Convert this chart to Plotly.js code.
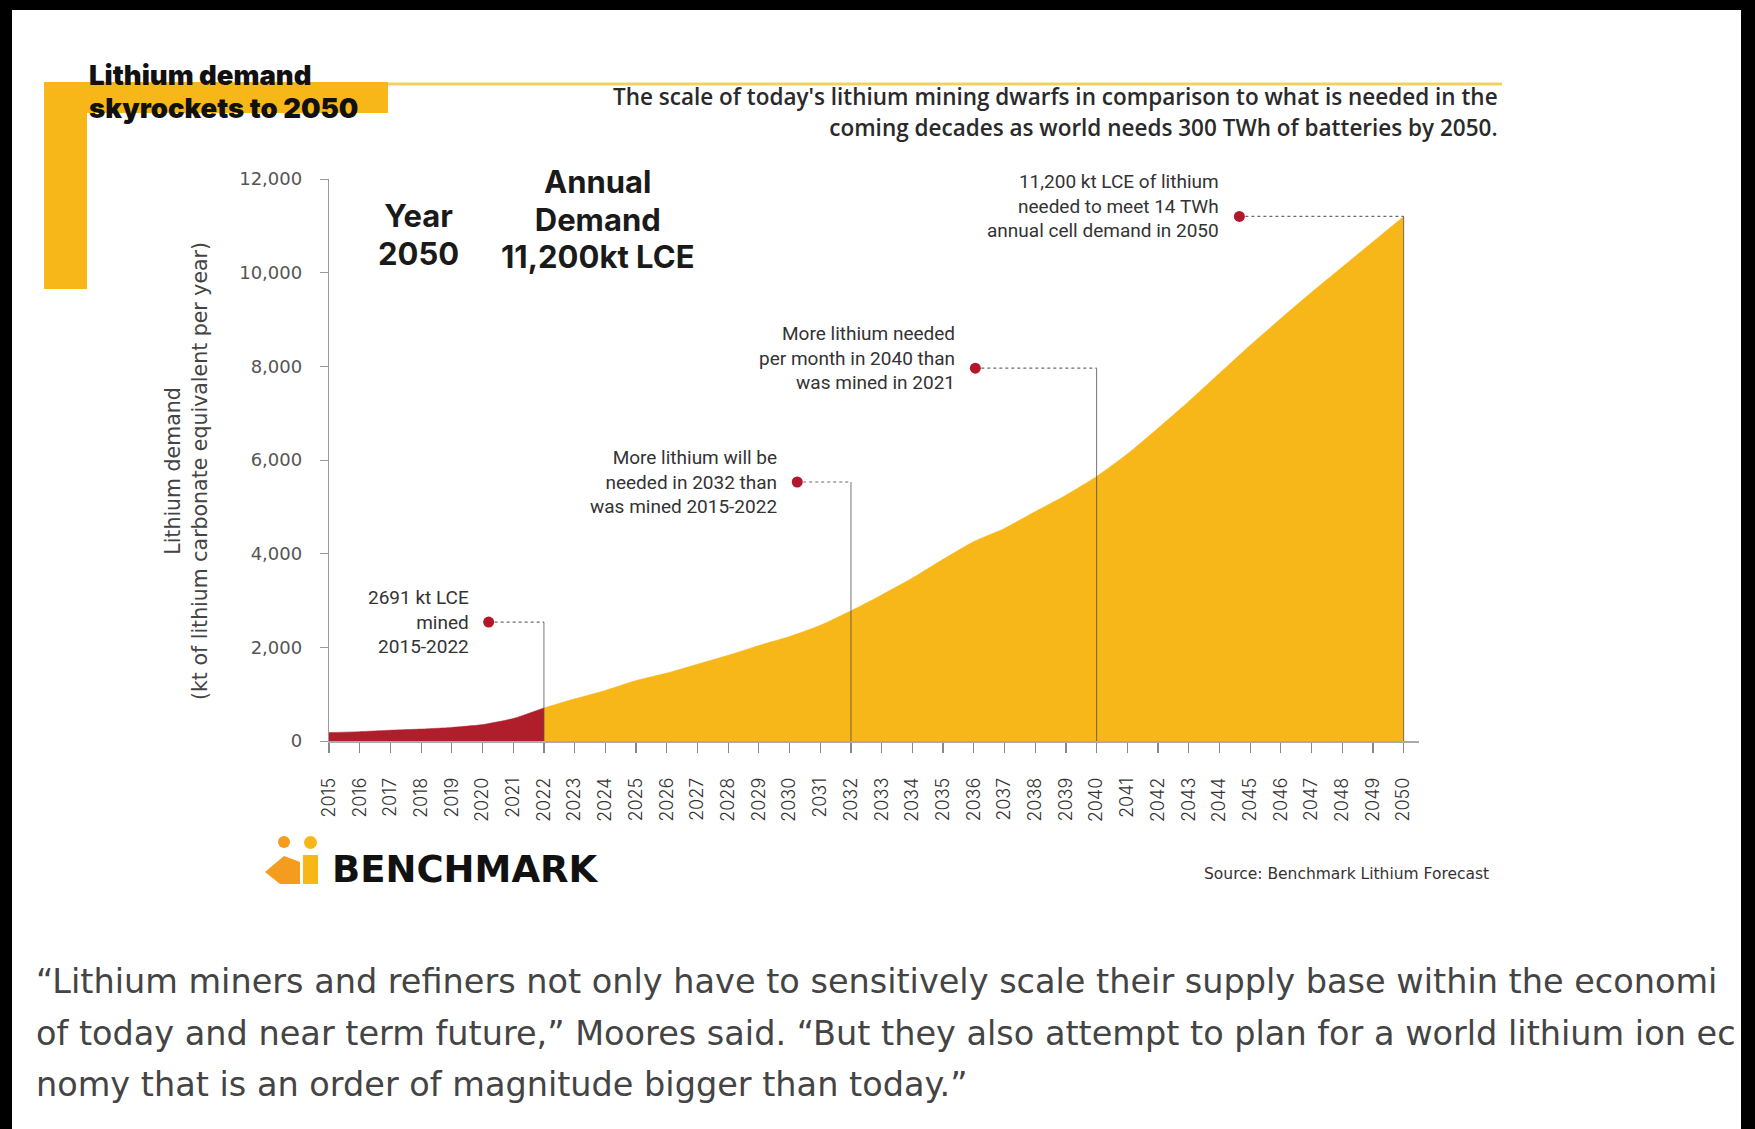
<!DOCTYPE html>
<html><head><meta charset="utf-8">
<script src="https://cdn.plot.ly/plotly-3.0.1.min.js"></script>
<style>
html,body{margin:0;padding:0;background:#fff;}
#wrap{position:relative;width:1755px;height:1129px;overflow:hidden;background:#fff;}
#chart{position:absolute;left:0;top:0;width:1755px;height:1129px;}
.bk{position:absolute;background:#000;z-index:10;pointer-events:none;}
</style></head><body>
<div id="wrap"><div id="chart"></div>
<div class="bk" style="left:0;top:0;width:1755px;height:10px"></div>
<div class="bk" style="left:0;top:0;width:12px;height:1129px"></div>
<div class="bk" style="left:1741px;top:0;width:14px;height:1129px"></div>
</div>
<script>
// ---------------- data ----------------
const years = [2015,2016,2017,2018,2019,2020,2021,2022,2023,2024,2025,2026,2027,2028,2029,2030,2031,2032,2033,2034,2035,2036,2037,2038,2039,2040,2041,2042,2043,2044,2045,2046,2047,2048,2049,2050];
const demand = [180,200,230,255,290,350,480,706,900,1080,1290,1450,1640,1830,2040,2230,2470,2780,3120,3480,3880,4260,4540,4900,5250,5650,6130,6680,7250,7850,8450,9020,9580,10120,10660,11200];
const minedLastYear = 2022;
const yTickValues = [0,2000,4000,6000,8000,10000,12000];
const yTickLabels = ['0','2,000','4,000','6,000','8,000','10,000','12,000'];
const calloutYears = [2020.2, 2030.25, 2036.05, 2044.65];
const calloutValues = [2540, 5530, 7960, 11200];
const calloutTargets = [2022, 2032, 2040, 2050];
const calloutTexts = [
  '2691 kt LCE<br>mined<br>2015-2022',
  'More lithium will be<br>needed in 2032 than<br>was mined 2015-2022',
  'More lithium needed<br>per month in 2040 than<br>was mined in 2021',
  '11,200 kt LCE of lithium<br>needed to meet 14 TWh<br>annual cell demand in 2050'
];
const calloutYShift = [0, 0, 10, 10];

// ---------------- geometry helpers (page pixels -> paper) ----------------
const L = 329, T = 179, W = 1090, H = 562, B = T + H;
const px = X => (X - L) / W;
const py = Y => (B - Y) / H;

const YELLOW = '#F8B718', RED = '#B11E2B', DOT = '#B3172C';
const SANS = 'Inter, Lato, "Open Sans", sans-serif';
const WIDE = '"DejaVu Sans", Verdana, sans-serif';
const NARROW = '"Liberation Sans Narrow", "Roboto", sans-serif';

const minedX = [], minedY = [], fcX = [], fcY = [];
years.forEach((yr, i) => {
  if (yr <= minedLastYear) { minedX.push(yr); minedY.push(demand[i]); }
  if (yr >= minedLastYear) { fcX.push(yr); fcY.push(demand[i]); }
});

const traces = [
  {x: fcX, y: fcY, type: 'scatter', mode: 'lines', fill: 'tozeroy', fillcolor: YELLOW,
   line: {color: YELLOW, width: 0.5, shape: 'spline', smoothing: 0.5}, hoverinfo: 'skip'},
  {x: minedX, y: minedY, type: 'scatter', mode: 'lines', fill: 'tozeroy', fillcolor: RED,
   line: {color: RED, width: 0.5, shape: 'spline', smoothing: 0.5}, hoverinfo: 'skip'}
];
calloutYears.forEach((cx, i) => {
  traces.push({x: [cx, calloutTargets[i]], y: [calloutValues[i], calloutValues[i]], type: 'scatter', mode: 'lines',
    line: {color: '#6d6d6d', width: 1.2, dash: 'dot'}, hoverinfo: 'skip'});
  traces.push({x: [calloutTargets[i], calloutTargets[i]], y: [calloutValues[i], 0], type: 'scatter', mode: 'lines',
    line: {color: 'rgba(70,70,70,0.75)', width: 1}, hoverinfo: 'skip'});
});
traces.push({x: calloutYears, y: calloutValues, type: 'scatter', mode: 'markers',
  marker: {color: DOT, size: 11}, hoverinfo: 'skip'});

const ann = [];
calloutYears.forEach((cx, i) => {
  ann.push({x: cx, y: calloutValues[i], xref: 'x', yref: 'y', text: calloutTexts[i], showarrow: false,
    xanchor: 'right', yanchor: 'middle', align: 'right', xshift: -18, yshift: calloutYShift[i],
    font: {family: NARROW, size: 19, color: '#333'}});
});
function txt(text, X, Y, opts) {
  return Object.assign({text: text, x: px(X), y: py(Y), xref: 'paper', yref: 'paper', showarrow: false,
    xanchor: 'left', yanchor: 'middle'}, opts);
}
// multi-line text with a chosen line pitch: base size sets the pitch, spans set the glyph size
function lines(arr, glyphPx) {
  return arr.map(s => `<span style="font-size:${glyphPx}px">${s}</span>`).join('<br>');
}
ann.push(txt(lines(['Lithium demand', 'skyrockets to 2050'], 27.5), 87, 92,
  {align: 'left', font: {family: SANS, size: 33.5 / 1.3, weight: 900, color: '#111'}}));
ann.push(txt(lines(["The scale of today's lithium mining dwarfs in comparison to what is needed in the",
  'coming decades as world needs 300 TWh of batteries by 2050.'], 22.5), 1500, 112,
  {xanchor: 'right', align: 'right', font: {family: '"Open Sans", sans-serif', size: 31 / 1.3, weight: 600, color: '#2a2a2a'}}));
ann.push(txt(lines(['Year', '2050'], 31), 418, 234.5,
  {xanchor: 'center', align: 'center', font: {family: SANS, size: 37.5 / 1.3, weight: 700, color: '#1a1a1a'}}));
ann.push(txt(lines(['Annual', 'Demand', '11,200kt LCE'], 31), 598, 219,
  {xanchor: 'center', align: 'center', font: {family: SANS, size: 37.5 / 1.3, weight: 700, color: '#1a1a1a'}}));
ann.push(txt('Lithium demand<br>(kt of lithium carbonate equivalent per year)', 186, 471,
  {xanchor: 'center', textangle: -90, font: {family: WIDE, size: 20.5, color: '#444'}}));
ann.push(txt('BENCHMARK', 330, 869, {font: {family: WIDE, size: 37, weight: 700, color: '#111'}}));
ann.push(txt('Source: Benchmark Lithium Forecast', 1491, 874, {xanchor: 'right', font: {family: WIDE, size: 15.5, color: '#333'}}));
const quoteFont = {family: WIDE, size: 33.5, weight: 400, color: '#444'};
// the reference photo crops the first two lines at its right border
ann.push(txt('\u201CLithium miners and refiners not only have to sensitively scale their supply base within the economi', 34, 981, {font: quoteFont}));
ann.push(txt('of today and near term future,\u201D Moores said. \u201CBut they also attempt to plan for a world lithium ion ec', 34, 1033, {font: quoteFont}));
ann.push(txt('nomy that is an order of magnitude bigger than today.\u201D', 34, 1084, {font: quoteFont}));

const shapes = [
  // yellow L frame + thin line
  {type: 'rect', xref: 'paper', yref: 'paper', x0: px(44), x1: px(87), y0: py(82), y1: py(289), fillcolor: YELLOW, line: {width: 0}, layer: 'below'},
  {type: 'rect', xref: 'paper', yref: 'paper', x0: px(44), x1: px(388), y0: py(82), y1: py(113), fillcolor: YELLOW, line: {width: 0}, layer: 'below'},
  {type: 'line', xref: 'paper', yref: 'paper', x0: px(388), x1: px(1502), y0: py(84), y1: py(84), line: {color: '#EFD362', width: 3}, layer: 'below'},
  // logo icon
  {type: 'path', xref: 'paper', yref: 'paper', path: `M ${px(265)} ${py(872)} L ${px(284)} ${py(856)} L ${px(300)} ${py(862)} L ${px(300)} ${py(884)} L ${px(280)} ${py(884)} Z`, fillcolor: '#F39C1E', line: {width: 0}},
  {type: 'circle', xref: 'paper', yref: 'paper', x0: px(278), x1: px(290), y0: py(836), y1: py(848), fillcolor: '#F39C1E', line: {width: 0}},
  {type: 'rect', xref: 'paper', yref: 'paper', x0: px(303), x1: px(318), y0: py(855), y1: py(884), fillcolor: '#F8B718', line: {width: 0}},
  {type: 'circle', xref: 'paper', yref: 'paper', x0: px(304), x1: px(317), y0: py(836), y1: py(849), fillcolor: '#F8B718', line: {width: 0}}
];

const layout = {
  width: 1755, height: 1129,
  margin: {l: L, r: 1755 - L - W, t: T, b: 1129 - B, pad: 0},
  paper_bgcolor: '#ffffff', plot_bgcolor: '#ffffff',
  showlegend: false,
  xaxis: {range: [2015, 2050.5], tickmode: 'linear', tick0: 2015, dtick: 1, tickangle: -90,
    showgrid: false, zeroline: false, showline: true, linecolor: '#aaaaaa', linewidth: 1.5,
    ticks: 'outside', ticklen: 10, tickcolor: '#888', tickwidth: 1.2, ticklabelstandoff: 18,
    tickfont: {family: SANS, size: 18, weight: 300, color: '#333'}},
  yaxis: {range: [0, 12000], tickmode: 'array', tickvals: yTickValues, ticktext: yTickLabels,
    showgrid: false, zeroline: false, showline: true, linecolor: '#999', linewidth: 1.2,
    ticks: 'outside', ticklen: 8, tickcolor: '#999', ticklabelstandoff: 14,
    tickfont: {family: WIDE, size: 18, color: '#555'}},
  annotations: ann,
  shapes: shapes
};
Plotly.newPlot('chart', traces, layout, {staticPlot: true, displayModeBar: false});
</script>
</body></html>
